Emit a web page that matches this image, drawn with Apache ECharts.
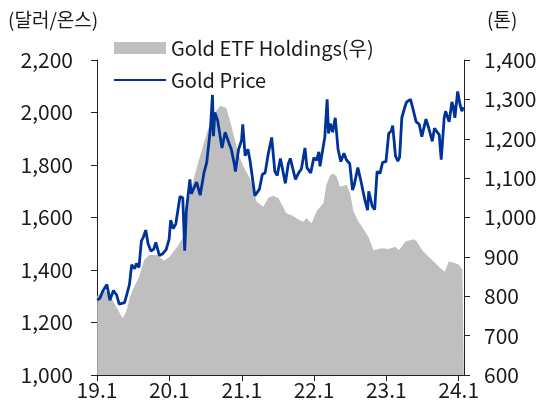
<!DOCTYPE html>
<html>
<head>
<meta charset="utf-8">
<script src="https://cdn.jsdelivr.net/npm/echarts@6/dist/echarts.min.js"></script>
<style>
  html, body { margin: 0; padding: 0; background: #fff; }
  #chart { width: 543px; height: 412px; }
</style>
</head>
<body>
<div id="chart"></div>
<script>
// 금 가격 (달러/온스)
var priceDates = ['2019-01-02', '2019-01-15', '2019-01-31', '2019-02-20', '2019-03-07', '2019-03-25', '2019-04-10', '2019-04-23',
	'2019-05-02', '2019-05-20', '2019-05-31', '2019-06-14', '2019-06-25', '2019-07-10', '2019-07-19', '2019-08-01',
	'2019-08-13', '2019-08-23', '2019-09-04', '2019-09-16', '2019-09-30', '2019-10-15', '2019-10-25', '2019-11-12',
	'2019-11-29', '2019-12-16', '2019-12-31', '2020-01-08', '2020-01-21', '2020-02-03', '2020-02-24', '2020-03-09',
	'2020-03-19', '2020-03-27', '2020-04-14', '2020-04-21', '2020-05-18', '2020-06-05', '2020-06-24', '2020-07-08',
	'2020-07-27', '2020-08-06', '2020-08-11', '2020-08-18', '2020-09-01', '2020-09-23', '2020-10-09', '2020-10-30',
	'2020-11-09', '2020-11-24', '2020-11-30', '2020-12-16', '2020-12-31', '2021-01-06', '2021-01-18', '2021-02-01',
	'2021-02-12', '2021-03-08', '2021-03-31', '2021-04-15', '2021-04-29', '2021-05-14', '2021-06-01', '2021-06-17',
	'2021-06-29', '2021-07-15', '2021-08-09', '2021-08-24', '2021-09-03', '2021-09-29', '2021-10-15', '2021-10-29',
	'2021-11-16', '2021-11-26', '2021-12-15', '2021-12-31', '2022-01-14', '2022-01-25', '2022-01-31', '2022-02-14',
	'2022-02-24', '2022-03-08', '2022-03-15', '2022-03-24', '2022-04-05', '2022-04-18', '2022-05-02', '2022-05-16',
	'2022-06-01', '2022-06-13', '2022-06-30', '2022-07-14', '2022-07-21', '2022-08-10', '2022-08-26', '2022-09-15',
	'2022-09-28', '2022-10-04', '2022-10-21', '2022-11-03', '2022-11-15', '2022-11-30', '2022-12-13', '2022-12-30',
	'2023-01-13', '2023-01-26', '2023-02-02', '2023-02-16', '2023-02-28', '2023-03-09', '2023-03-20', '2023-04-04',
	'2023-04-13', '2023-05-03', '2023-05-15', '2023-05-31', '2023-06-16', '2023-06-29', '2023-07-20', '2023-08-03',
	'2023-08-21', '2023-09-01', '2023-09-25', '2023-10-05', '2023-10-20', '2023-10-27', '2023-11-14', '2023-11-28',
	'2023-12-04', '2023-12-13', '2023-12-27', '2024-01-08', '2024-01-17', '2024-01-25'];
var priceValues = [1285, 1292, 1321, 1345, 1285, 1322, 1305, 1270,
	1272, 1276, 1305, 1345, 1420, 1405, 1425, 1410,
	1510, 1525, 1552, 1500, 1472, 1480, 1505, 1455,
	1462, 1478, 1517, 1590, 1558, 1576, 1680, 1675,
	1474, 1625, 1745, 1690, 1735, 1685, 1770, 1810,
	1940, 2067, 1910, 2000, 1970, 1865, 1925, 1880,
	1860, 1805, 1775, 1860, 1895, 1955, 1835, 1860,
	1815, 1683, 1708, 1765, 1770, 1840, 1905, 1775,
	1760, 1825, 1730, 1805, 1825, 1745, 1770, 1785,
	1865, 1790, 1770, 1828, 1818, 1850, 1795, 1860,
	1905, 2050, 1920, 1958, 1925, 1980, 1860, 1813,
	1845, 1820, 1805, 1705, 1718, 1790, 1737, 1665,
	1628, 1700, 1645, 1630, 1775, 1768, 1810, 1813,
	1920, 1930, 1950, 1835, 1815, 1830, 1980, 2020,
	2040, 2050, 2015, 1965, 1955, 1908, 1975, 1940,
	1890, 1940, 1915, 1820, 1980, 2005, 1965, 2040,
	2025, 1980, 2080, 2030, 2005, 2020];

// Gold ETF 보유량 (톤)
var etfDates = ['2019-01-02', '2019-02-10', '2019-03-15', '2019-04-12', '2019-05-10', '2019-05-28', '2019-06-17', '2019-07-08',
	'2019-08-02', '2019-08-27', '2019-09-21', '2019-10-31', '2019-12-05', '2020-01-01', '2020-02-10', '2020-03-17',
	'2020-03-26', '2020-04-07', '2020-05-11', '2020-06-13', '2020-07-17', '2020-08-16', '2020-09-14', '2020-10-15',
	'2020-11-11', '2020-12-15', '2021-01-09', '2021-02-11', '2021-03-17', '2021-04-20', '2021-05-15', '2021-06-09',
	'2021-07-05', '2021-08-14', '2021-09-10', '2021-10-14', '2021-11-08', '2021-11-23', '2021-12-19', '2022-01-13',
	'2022-01-28', '2022-02-17', '2022-03-04', '2022-03-24', '2022-04-08', '2022-04-24', '2022-05-12', '2022-06-15',
	'2022-07-03', '2022-07-19', '2022-08-13', '2022-09-16', '2022-10-03', '2022-10-28', '2022-12-10', '2023-01-13',
	'2023-02-16', '2023-03-05', '2023-04-07', '2023-05-19', '2023-06-03', '2023-07-01', '2023-07-24', '2023-08-20',
	'2023-09-13', '2023-10-10', '2023-10-23', '2023-11-12', '2023-12-16', '2024-01-03', '2024-01-20', '2024-01-27'];
var etfValues = [800, 815, 795, 770, 744, 760, 800, 824,
	850, 892, 905, 905, 890, 900, 926, 955,
	960, 1044, 1113, 1171, 1227, 1265, 1284, 1278,
	1230, 1160, 1130, 1100, 1040, 1027, 1050, 1055,
	1049, 1011, 1006, 995, 989, 999, 985, 1015,
	1025, 1036, 1083, 1108, 1112, 1105, 1078, 1083,
	1060, 1015, 990, 964, 950, 917, 922, 920,
	926, 917, 939, 945, 940, 917, 905, 892,
	880, 867, 862, 888, 884, 880, 867, 862];

var yearTicks = ['2019-01-01', '2020-01-01', '2021-01-01', '2022-01-01', '2023-01-01', '2024-01-01'];
var axisEnd = '2024-01-28';

function toTime(s) {
	return Date.parse(s + 'T00:00:00Z');
}

function zip(dates, values) {
	var out = [];
	for (var i = 0; i < dates.length; i++) {
		out.push([toTime(dates[i]), values[i]]);
	}
	return out;
}

var tickValues = yearTicks.map(toTime);

var font = 'Noto Sans CJK KR';
var textColor = '#1a1a1a';

var option = {
	animation : false,
	textStyle : {
		fontFamily : font
	},
	grid : {
		left : 97,
		right : 79,
		top : 60,
		bottom : 37
	},
	legend : {
		orient : 'vertical',
		left : 108,
		top : 33,
		itemWidth : 52,
		itemHeight : 12,
		itemGap : 12,
		textStyle : {
			fontSize : 20,
			color : textColor,
			fontFamily : font
		},
		data : [ {
			name : 'Gold ETF Holdings(우)',
			icon : 'rect'
		}, {
			name : 'Gold Price',
			itemStyle : {
				opacity : 0
			}
		} ]
	},
	graphic : [ {
		type : 'text',
		left : 8,
		top : 10,
		style : {
			text : '(달러/온스)',
			fontSize : 19,
			fontFamily : font,
			fill : textColor
		}
	}, {
		type : 'text',
		left : 487,
		top : 10,
		style : {
			text : '(톤)',
			fontSize : 19,
			fontFamily : font,
			fill : textColor
		}
	} ],
	xAxis : {
		type : 'value',
		min : toTime(yearTicks[0]),
		max : toTime(axisEnd),
		splitLine : {
			show : false
		},
		axisLine : {
			lineStyle : {
				color : '#222',
				width : 1
			}
		},
		axisTick : {
			show : true,
			length : 6,
			customValues : tickValues,
			lineStyle : {
				color : '#222'
			}
		},
		axisLabel : {
			customValues : tickValues,
			fontSize : 21,
			color : textColor,
			margin : 5,
			formatter : function(v) {
				var d = new Date(v);
				return (d.getUTCFullYear() % 100) + '.' + (d.getUTCMonth() + 1);
			}
		}
	},
	yAxis : [ {
		type : 'value',
		min : 1000,
		max : 2200,
		interval : 200,
		splitLine : {
			show : false
		},
		axisLine : {
			show : true,
			lineStyle : {
				color : '#222'
			}
		},
		axisTick : {
			show : true,
			length : 6,
			lineStyle : {
				color : '#222'
			}
		},
		axisLabel : {
			fontSize : 21,
			color : textColor,
			margin : 24,
			formatter : function(v) {
				return v.toLocaleString('en-US');
			}
		}
	}, {
		type : 'value',
		min : 600,
		max : 1400,
		interval : 100,
		splitLine : {
			show : false
		},
		axisLine : {
			show : true,
			lineStyle : {
				color : '#222'
			}
		},
		axisTick : {
			show : true,
			length : 6,
			lineStyle : {
				color : '#222'
			}
		},
		axisLabel : {
			fontSize : 21,
			color : textColor,
			margin : 20,
			formatter : function(v) {
				return v.toLocaleString('en-US');
			}
		}
	} ],
	series : [ {
		name : 'Gold ETF Holdings(우)',
		type : 'line',
		yAxisIndex : 1,
		symbol : 'none',
		showSymbol : false,
		lineStyle : {
			width : 0
		},
		itemStyle : {
			color : '#bfbfbf'
		},
		areaStyle : {
			color : '#bfbfbf',
			opacity : 1
		},
		z : 1,
		data : zip(etfDates, etfValues)
	}, {
		name : 'Gold Price',
		type : 'line',
		yAxisIndex : 0,
		symbol : 'none',
		showSymbol : false,
		lineStyle : {
			width : 2.8,
			color : '#003399'
		},
		itemStyle : {
			color : '#003399'
		},
		z : 2,
		data : zip(priceDates, priceValues)
	} ]
};

var chart = echarts.init(document.getElementById('chart'));
chart.setOption(option);
</script>
</body>
</html>
